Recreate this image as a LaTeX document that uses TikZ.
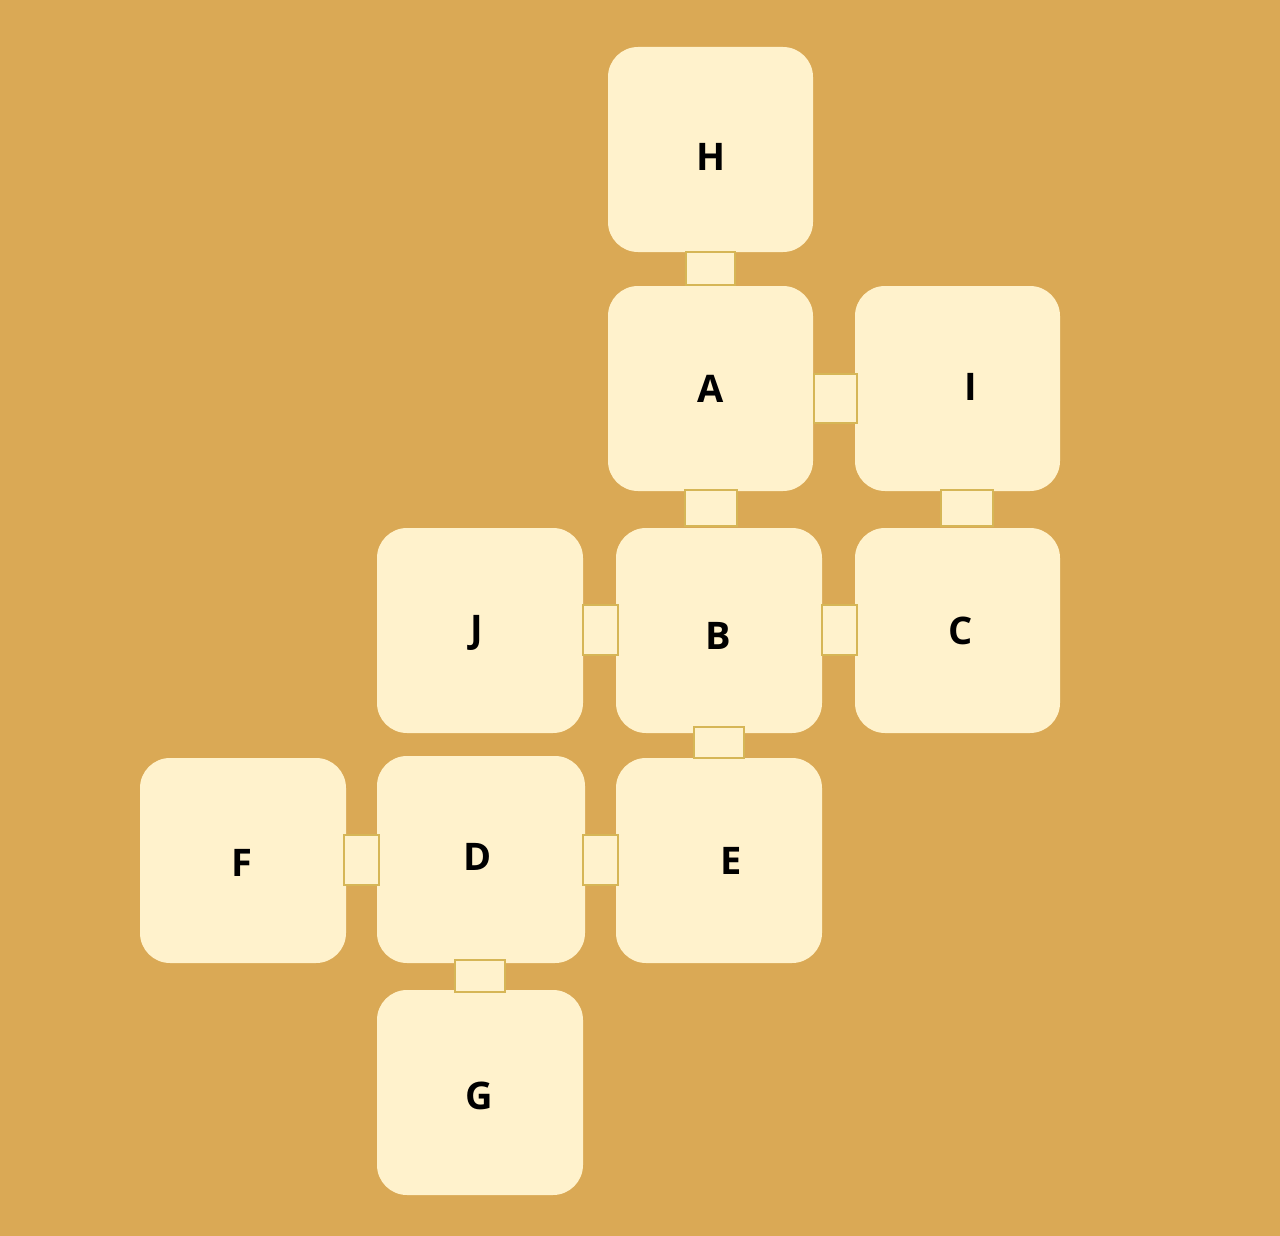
\documentclass[tikz,border=0pt]{standalone}
\usepackage{fontspec}
\setmainfont{Open Sans}
\definecolor{bg}{HTML}{DAA955}
\definecolor{boxfill}{HTML}{FFF2CC}
\definecolor{linkline}{HTML}{D6B656}
\begin{document}
\begin{tikzpicture}[x=1pt,y=-1pt,
  room/.style={fill=boxfill,draw=none,rounded corners=30pt},
  link/.style={fill=boxfill,draw=linkline,line width=1.5pt},
  lbl/.style={font=\fontsize{38}{44}\selectfont\bfseries,text=black,inner sep=0pt}]
\fill[bg] (0,0) rectangle (1280,1236);
\useasboundingbox (0,0) rectangle (1280,1236);
% rooms
\foreach \n/\xa/\ya/\xb/\yb in {H/608/47/813/252, A/608/286/813/491, I/855/286/1060/491,
  J/377/528/583/733, B/616/528/822/733, C/855/528/1060/733,
  F/140/758/346/963, D/377/756/585/963, E/616/758/822/963, G/377/990/583/1195}{
  \fill[room] (\xa,\ya) rectangle (\xb,\yb);
}
% connectors
\foreach \xa/\ya/\xb/\yb in {686/252/735/285, 814/374/857/423, 685/490/737/526, 941/490/993/526,
  583/605/618/655, 822/605/857/655, 694/727/744/758, 344/835/379/885, 583/835/618/885, 455/960/505/992}{
  \draw[link] (\xa,\ya) rectangle (\xb,\yb);
}
% labels
\node[lbl] (lH) at (711,157) {H};
\node[lbl] (lA) at (711,389) {A};
\node[lbl] (lI) at (971,387) {I};
\node[lbl] (lJ) at (477,633) {J};
\node[lbl] (lB) at (718,636) {B};
\node[lbl] (lC) at (961,631) {C};
\node[lbl] (lF) at (242,863) {F};
\node[lbl] (lD) at (478,857) {D};
\node[lbl] (lE) at (731,861) {E};
\node[lbl] (lG) at (479,1096) {G};
\end{tikzpicture}
\end{document}
